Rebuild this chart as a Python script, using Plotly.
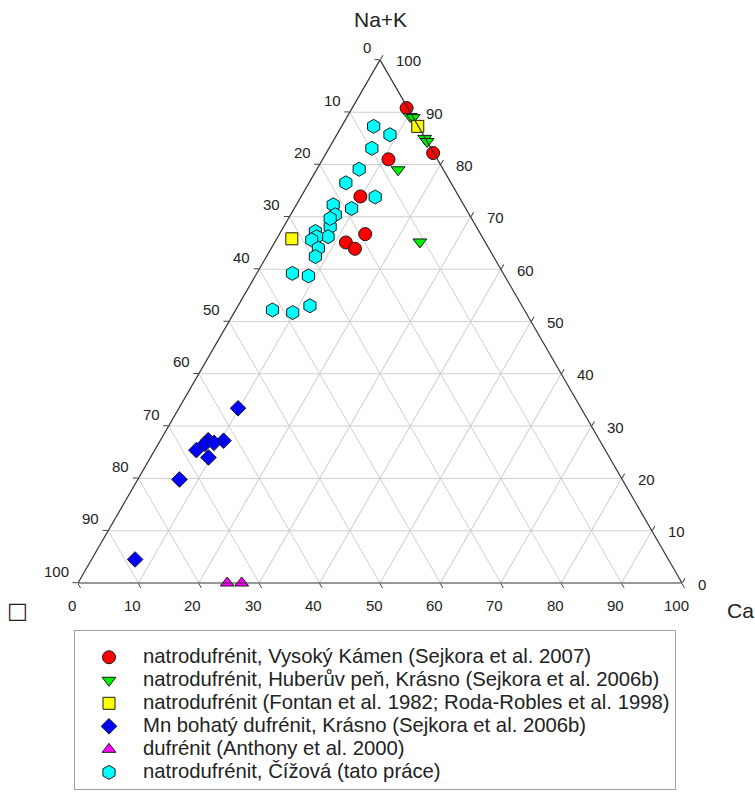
import plotly.graph_objects as go

# ---- data (Na+K, vacancy, Ca) in atomic % ----
red_nak = [90.8, 82.2, 81.0, 73.9, 66.7, 65.1, 63.9]
red_vac = [0.2, 0.1, 8.1, 16.3, 19.1, 23.1, 22.2]
red_ca = [9.0, 17.7, 10.9, 9.8, 14.2, 11.8, 13.9]

green_nak = [89.2, 89.0, 85.0, 84.4, 79.0, 65.2]
green_vac = [0.4, 0.0, 0.1, 0.0, 7.5, 10.8]
green_ca = [10.4, 11.0, 14.9, 15.6, 13.5, 24.0]

yellow_nak = [87.3, 65.8]
yellow_vac = [0.1, 31.7]
yellow_ca = [12.6, 2.5]

blue_nak = [33.4, 27.2, 27.3, 26.6, 25.4, 24.0, 26.8, 19.8, 4.5]
blue_vac = [56.8, 62.3, 64.8, 65.7, 67.7, 66.4, 64.1, 73.3, 88.3]
blue_ca = [9.8, 10.5, 7.9, 7.7, 6.9, 9.6, 9.1, 6.9, 7.2]

magenta_nak = [0.0, 0.0]
magenta_vac = [75.3, 72.9]
magenta_ca = [24.7, 27.1]

cyan_nak = [87.3, 85.7, 83.1, 79.1, 76.5, 73.8, 71.6, 72.3, 70.4, 68.1, 66.2,
            67.2, 66.2, 65.6, 64.0, 62.4, 69.7, 59.2, 58.7, 52.2, 51.7, 53.0]
cyan_vac = [7.4, 5.5, 9.8, 13.9, 17.4, 13.9, 18.9, 21.6, 22.2, 24.2, 25.5,
            27.1, 27.4, 28.5, 28.2, 29.5, 23.4, 34.9, 32.5, 41.7, 38.6, 35.1]
cyan_ca = [5.3, 8.8, 7.1, 7.0, 6.1, 12.3, 9.5, 6.1, 7.4, 7.7, 8.3,
           5.7, 6.4, 5.9, 7.8, 8.1, 6.9, 5.9, 8.8, 6.1, 9.7, 11.9]

series_names = [
    "natrodufrénit, Vysoký Kámen (Sejkora et al. 2007)",
    "natrodufrénit, Huberův peň, Krásno (Sejkora et al. 2006b)",
    "natrodufrénit (Fontan et al. 1982; Roda-Robles et al. 1998)",
    "Mn bohatý dufrénit, Krásno (Sejkora et al. 2006b)",
    "dufrénit (Anthony et al. 2000)",
    "natrodufrénit, Čížová (tato práce)",
]

tick_values = [0, 10, 20, 30, 40, 50, 60, 70, 80, 90, 100]
tick_labels = ["0", "10", "20", "30", "40", "50", "60", "70", "80", "90", "100"]

axis_titles = ["Na+K", "□", "Ca"]

FONT = "Liberation Sans, Arial, sans-serif"
W, H = 755, 798

# ---- triangle placement (figure pixels) ----
TRI_LEFT, TRI_RIGHT, TRI_BOTTOM = 78, 682, 583
tri_w = TRI_RIGHT - TRI_LEFT
tri_h = tri_w * 3 ** 0.5 / 2
TRI_TOP = TRI_BOTTOM - tri_h
apex = ((TRI_LEFT + TRI_RIGHT) / 2, TRI_TOP)
bl = (TRI_LEFT, TRI_BOTTOM)
br = (TRI_RIGHT, TRI_BOTTOM)


def px(x, y):
    return x / W, 1 - y / H


def along(p0, p1, t):
    return p0[0] + (p1[0] - p0[0]) * t, p0[1] + (p1[1] - p0[1]) * t


styles = [
    ("circle", "#ff0000", 13),
    ("triangle-down", "#00ee00", 12),
    ("square", "#ffff00", 12),
    ("diamond", "#0000ff", 12),
    ("triangle-up", "#ff00ff", 12),
    ("hexagon", "#00ffff", 14),
]
data = [
    (red_nak, red_vac, red_ca),
    (green_nak, green_vac, green_ca),
    (yellow_nak, yellow_vac, yellow_ca),
    (blue_nak, blue_vac, blue_ca),
    (magenta_nak, magenta_vac, magenta_ca),
    (cyan_nak, cyan_vac, cyan_ca),
]

fig = go.Figure()
for (nak, vac, ca), (sym, col, sz), name in zip(data, styles, series_names):
    fig.add_trace(go.Scatterternary(
        a=nak, b=vac, c=ca, mode="markers",
        name='<span style="font-size:20.3px">' + name + "</span>",
        marker=dict(symbol=sym, color=col, size=sz,
                    line=dict(color="#1a1a1a", width=1)),
        cliponaxis=False,
    ))

axis_common = dict(
    tickmode="array", tickvals=tick_values, ticks="outside", ticklen=5,
    tickcolor="#404040", linecolor="#333333", linewidth=1.2,
    showgrid=True, gridcolor="#cfcfcf", gridwidth=1,
    showticklabels=False, min=0, title=dict(text=""),
)

annotations = []
tick_font = dict(family=FONT, size=15, color="#222222")
for v, lab in zip(tick_values, tick_labels):
    t = v / 100
    # left edge: vacancy (0 at apex, 100 at bottom-left)
    ex, ey = along(apex, bl, t)
    x, y = px(ex - 7, ey - 12)
    annotations.append(dict(text=lab, x=x, y=y, xref="paper", yref="paper",
                            xanchor="right", yanchor="middle", showarrow=False,
                            font=tick_font))
    # bottom edge: Ca (0 at bottom-left, 100 at bottom-right)
    ex, ey = along(bl, br, t)
    x, y = px(ex - 6, ey + 22)
    annotations.append(dict(text=lab, x=x, y=y, xref="paper", yref="paper",
                            xanchor="center", yanchor="middle", showarrow=False,
                            font=tick_font))
    # right edge: Na+K (0 at bottom-right, 100 at apex)
    ex, ey = along(br, apex, t)
    x, y = px(ex + 14, ey + 1)
    annotations.append(dict(text=lab, x=x, y=y, xref="paper", yref="paper",
                            xanchor="left", yanchor="middle", showarrow=False,
                            font=tick_font))

title_font = dict(family=FONT, size=21, color="#222222")
for text, (tx, ty), fnt in zip(
        axis_titles,
        [(apex[0], 19), (17, 610), (740, 610)],
        [title_font, dict(family="DejaVu Sans", size=22, color="#222222"), title_font]):
    x, y = px(tx, ty)
    annotations.append(dict(text=text, x=x, y=y, xref="paper", yref="paper",
                            xanchor="center", yanchor="middle", showarrow=False,
                            font=fnt))

dx0, dy0 = px(TRI_LEFT, TRI_BOTTOM)
dx1, dy1 = px(TRI_RIGHT, TRI_TOP)

fig.update_layout(
    width=W, height=H,
    margin=dict(l=0, r=0, t=0, b=0),
    paper_bgcolor="white",
    font=dict(family=FONT, color="#222222"),
    ternary=dict(
        sum=100,
        bgcolor="white",
        domain=dict(x=[dx0, dx1], y=[dy0, dy1]),
        aaxis=axis_common,
        baxis=axis_common,
        caxis=axis_common,
    ),
    showlegend=True,
    legend=dict(
        x=74 / W, xanchor="left", y=1 - 630 / H, yanchor="top",
        bgcolor="white", bordercolor="#a0a0a0", borderwidth=1,
        font=dict(family=FONT, size=15.4, color="#222222"),
        itemwidth=58,
        title=dict(text=" ", font=dict(size=7.5)),
    ),
    annotations=annotations,
)

fig.write_html("out.html",
               config={"displayModeBar": False},
               post_script="document.body.style.margin='0';"
                           "document.body.style.overflow='hidden';")
